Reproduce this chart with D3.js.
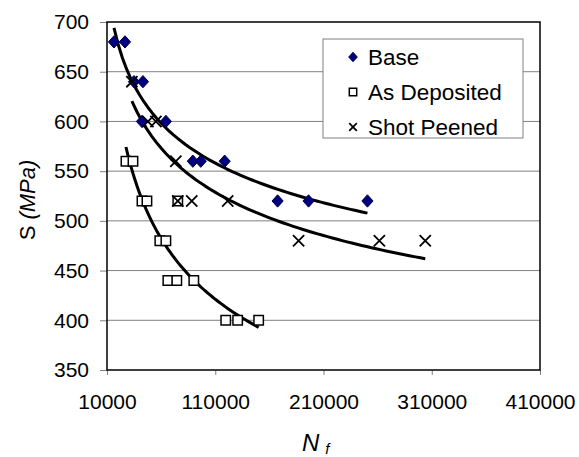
<!DOCTYPE html>
<html>
<head>
<meta charset="utf-8">
<script src="https://cdn.jsdelivr.net/npm/d3@7"></script>
<style>
  body { margin: 0; background: #fff; }
  svg { display: block; font-family: "Liberation Sans", Arial, sans-serif; }
</style>
</head>
<body>
<div id="chart"></div>
<script>
// Fatigue data: cycles to failure (Nf) vs stress S (MPa)
const baseN = [16450, 26600, 34900, 43200, 42300, 64400, 89300, 96600, 118700, 167600, 196200, 250600];
const baseS = [680, 680, 640, 640, 600, 600, 560, 560, 560, 520, 520, 520];

const depositedN = [27500, 34000, 42300, 46900, 75400, 58800, 64400, 66200, 74500, 90200, 119700, 130700, 150100];
const depositedS = [560, 560, 520, 520, 520, 480, 480, 440, 440, 440, 400, 400, 400];

const peenedN = [33000, 47800, 55200, 73600, 75400, 88300, 121500, 187000, 261600, 304000];
const peenedS = [640, 600, 600, 560, 520, 520, 520, 480, 480, 480];

const xTicks = [10000, 110000, 210000, 310000, 410000];
const yTicks = [350, 400, 450, 500, 550, 600, 650, 700];
const legendLabels = ['Base', 'As Deposited', 'Shot Peened'];

const W = 579, H = 457;
const margin = { top: 22, right: 39, bottom: 87, left: 107 };

const svg = d3.select('#chart').append('svg')
    .attr('width', W)
    .attr('height', H);

const x = d3.scaleLinear().domain([10000, 410000]).range([margin.left, W - margin.right]);
const y = d3.scaleLinear().domain([350, 700]).range([H - margin.bottom, margin.top]);

// gridlines
svg.append('g')
    .selectAll('line')
    .data(yTicks.slice(1, -1))
    .join('line')
    .attr('x1', x.range()[0])
    .attr('x2', x.range()[1])
    .attr('y1', d => y(d))
    .attr('y2', d => y(d))
    .attr('stroke', '#808080')
    .attr('stroke-width', 1);

// axes
const yAxis = svg.append('g')
    .attr('transform', `translate(${margin.left},0)`)
    .call(d3.axisLeft(y).tickValues(yTicks).tickSize(7).tickPadding(11).tickFormat(d3.format('d')));

const xAxis = svg.append('g')
    .attr('transform', `translate(0,${H - margin.bottom})`)
    .call(d3.axisBottom(x).tickValues(xTicks).tickSize(5).tickPadding(19).tickFormat(d3.format('d')));

[xAxis, yAxis].forEach(a => {
    a.select('.domain').remove();
    a.selectAll('line').attr('stroke', '#808080');
    a.selectAll('text')
        .attr('font-size', '21px')
        .attr('fill', '#000')
        .attr('font-family', '"Liberation Sans", Arial, sans-serif');
});

// plot border
svg.append('rect')
    .attr('x', x.range()[0])
    .attr('y', y.range()[1])
    .attr('width', x.range()[1] - x.range()[0])
    .attr('height', y.range()[0] - y.range()[1])
    .attr('fill', 'none')
    .attr('stroke', '#000')
    .attr('stroke-width', 1.5);

// power trendlines (least squares on ln N, ln S), drawn over the data range
function powerFit(ns, ss) {
    const lx = ns.map(Math.log), ly = ss.map(Math.log);
    const mx = d3.mean(lx), my = d3.mean(ly);
    const b = d3.sum(lx, (v, i) => (v - mx) * (ly[i] - my)) / d3.sum(lx, v => (v - mx) * (v - mx));
    const a = Math.exp(my - b * mx);
    const [n0, n1] = d3.extent(ns);
    return d3.range(0, 61).map(i => {
        const n = n0 + (n1 - n0) * i / 60;
        return [n, a * Math.pow(n, b)];
    });
}

const line = d3.line().x(d => x(d[0])).y(d => y(d[1])).curve(d3.curveLinear);

[[baseN, baseS], [depositedN, depositedS], [peenedN, peenedS]].forEach(([ns, ss]) => {
    svg.append('path')
        .attr('d', line(powerFit(ns, ss)))
        .attr('fill', 'none')
        .attr('stroke', '#000')
        .attr('stroke-width', 3)
        .attr('stroke-linejoin', 'round');
});

// markers
const diamond = r => `M0,${-r * 1.1}L${r},0L0,${r * 1.1}L${-r},0Z`;
const square = r => `M${-r},${-r}H${r}V${r}H${-r}Z`;
const cross = r => `M${-r},${-r}L${r},${r}M${-r},${r}L${r},${-r}`;

function drawDiamond(g, r) {
    g.append('path').attr('d', diamond(r)).attr('fill', '#000080').attr('stroke', '#000040').attr('stroke-width', 1);
}
function drawSquare(g, r) {
    g.append('path').attr('d', square(r)).attr('fill', '#fff').attr('stroke', '#000').attr('stroke-width', 1.5);
}
function drawCross(g, r) {
    g.append('path').attr('d', cross(r)).attr('fill', 'none').attr('stroke', '#000').attr('stroke-width', 1.8);
}

svg.append('g').selectAll('g')
    .data(depositedN.map((n, i) => [n, depositedS[i]]))
    .join('g')
    .attr('transform', d => `translate(${x(d[0])},${y(d[1])})`)
    .each(function () { drawSquare(d3.select(this), 4.7); });

svg.append('g').selectAll('g')
    .data(baseN.map((n, i) => [n, baseS[i]]))
    .join('g')
    .attr('transform', d => `translate(${x(d[0])},${y(d[1])})`)
    .each(function () { drawDiamond(d3.select(this), 5.6); });

svg.append('g').selectAll('g')
    .data(peenedN.map((n, i) => [n, peenedS[i]]))
    .join('g')
    .attr('transform', d => `translate(${x(d[0])},${y(d[1])})`)
    .each(function () { drawCross(d3.select(this), 5.6); });

// legend
const legend = svg.append('g');
legend.append('rect')
    .attr('x', 323).attr('y', 39)
    .attr('width', 200).attr('height', 99)
    .attr('fill', '#fff')
    .attr('stroke', '#808080')
    .attr('stroke-width', 1);

const drawers = [drawDiamond, drawSquare, drawCross];
const legendSizes = [4.3, 3.7, 3.8];
legendLabels.forEach((label, i) => {
    const cy = 57 + i * 35;
    const mg = legend.append('g').attr('transform', `translate(353,${cy})`);
    drawers[i](mg, legendSizes[i]);
    legend.append('text')
        .attr('x', 368)
        .attr('y', cy)
        .attr('dy', '0.35em')
        .attr('font-size', '22.5px')
        .text(label);
});

// axis titles
svg.append('text')
    .attr('transform', 'translate(35,200) rotate(-90)')
    .attr('text-anchor', 'middle')
    .attr('font-size', '22px')
    .call(t => {
        t.append('tspan').text('S ');
        t.append('tspan').attr('font-style', 'italic').text('(MPa)');
    });

const xt = svg.append('text')
    .attr('x', 302)
    .attr('y', 451)
    .attr('font-size', '24px')
    .attr('font-style', 'italic');
xt.append('tspan').text('N');
xt.append('tspan').attr('dx', 6).attr('dy', 3).attr('font-size', '15px').text('f');
</script>
</body>
</html>
